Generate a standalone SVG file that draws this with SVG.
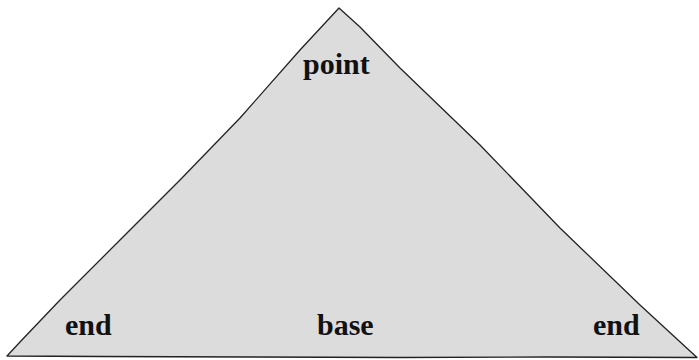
<svg xmlns="http://www.w3.org/2000/svg" width="699" height="360" viewBox="0 0 699 360">
<style>
.lbl{font-family:"Liberation Serif","Times New Roman",serif;font-weight:bold;font-size:30px;fill:#111}
.tri{fill:#dcdcdc;stroke:#222;stroke-width:1.3;stroke-linejoin:round}
</style>
<rect width="699" height="360" fill="#fff"/>
<g id="triangle">
<path class="tri" d="M339,8 L300,50 L240,118 L180,180 L120,240 L60,300 L20,342 L7,356 L100,356.5 L250,357 L400,357.5 L550,357 L697,357.5 L640,305 L560,228 L480,145 L400,68 L360,27 Z"/>
</g>
<g id="labels">
<text class="lbl" x="303" y="74">point</text>
<text class="lbl" x="65" y="335">end</text>
<text class="lbl" x="317" y="335">base</text>
<text class="lbl" x="593" y="335">end</text>
</g>
</svg>
